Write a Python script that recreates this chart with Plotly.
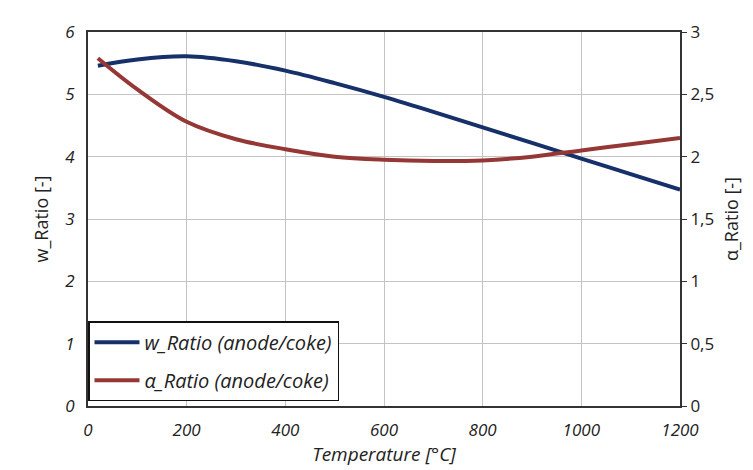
import plotly.graph_objects as go

temperature = [20, 100, 200, 300, 400, 500, 600, 700, 800, 900, 1000, 1100, 1200]
w_ratio = [5.46, 5.56, 5.61, 5.53, 5.38, 5.18, 4.96, 4.72, 4.47, 4.22, 3.97, 3.72, 3.47]
alpha_ratio = [2.79, 2.54, 2.28, 2.14, 2.06, 2.00, 1.975, 1.965, 1.97, 2.00, 2.05, 2.10, 2.15]

x_ticks = [0, 200, 400, 600, 800, 1000, 1200]
y_left_ticks = [0, 1, 2, 3, 4, 5, 6]
y_right_ticks = [0, 0.5, 1, 1.5, 2, 2.5, 3]
y_right_labels = ["0", "0,5", "1", "1,5", "2", "2,5", "3"]

FONT = "Open Sans"
ITAL = dict(family=FONT, size=17, color="#222", style="italic")
UPR = dict(family=FONT, size=17, color="#222")
TITX = dict(family=FONT, size=19, color="#222", style="italic")
TITY = dict(family=FONT, size=18, color="#222")
LEG = dict(family=FONT, size=20, color="#222", style="italic")

fig = go.Figure()
fig.add_trace(go.Scatter(x=temperature, y=w_ratio, mode="lines",
                         line=dict(color="#16306A", width=4, shape="spline"),
                         name="w_Ratio (anode/coke)", legendgroup="w"))
fig.add_trace(go.Scatter(x=temperature, y=alpha_ratio, mode="lines",
                         line=dict(color="#953735", width=4, shape="spline"),
                         name="α_Ratio (anode/coke)", legendgroup="a", yaxis="y2"))

fig.update_layout(
    width=753, height=470,
    margin=dict(l=80, r=81, t=17, b=72),
    paper_bgcolor="white", plot_bgcolor="white",
    showlegend=True,
    legend=dict(x=0.0, y=0.013, xanchor="left", yanchor="bottom",
                bordercolor="#111", borderwidth=1.5, bgcolor="white",
                font=LEG, itemwidth=45, traceorder="grouped", tracegroupgap=9),
    xaxis=dict(range=[0, 1200], tickvals=x_ticks, tickfont=ITAL,
               showgrid=True, gridcolor="#C4C4C4", gridwidth=1,
               showline=True, linecolor="#333", linewidth=2, mirror=True,
               ticks="", zeroline=False, ticklabelstandoff=8,
               title=dict(text="Temperature [°C]", font=TITX, standoff=6)),
    yaxis=dict(range=[0, 6], tickvals=y_left_ticks, tickfont=ITAL,
               showgrid=True, gridcolor="#C4C4C4", gridwidth=1,
               showline=True, linecolor="#333", linewidth=2,
               ticks="", zeroline=False, ticklabelstandoff=8,
               title=dict(text="w_Ratio [-]", font=TITY, standoff=12)),
    yaxis2=dict(range=[0, 3], tickvals=y_right_ticks, ticktext=y_right_labels,
                tickfont=UPR, overlaying="y", side="right",
                showgrid=False, showline=True, linecolor="#333", linewidth=2,
                ticks="outside", ticklen=5, tickcolor="#333", zeroline=False,
                title=dict(text="α_Ratio [-]", font=TITY, standoff=12)),
)

fig.write_html("out.html")
